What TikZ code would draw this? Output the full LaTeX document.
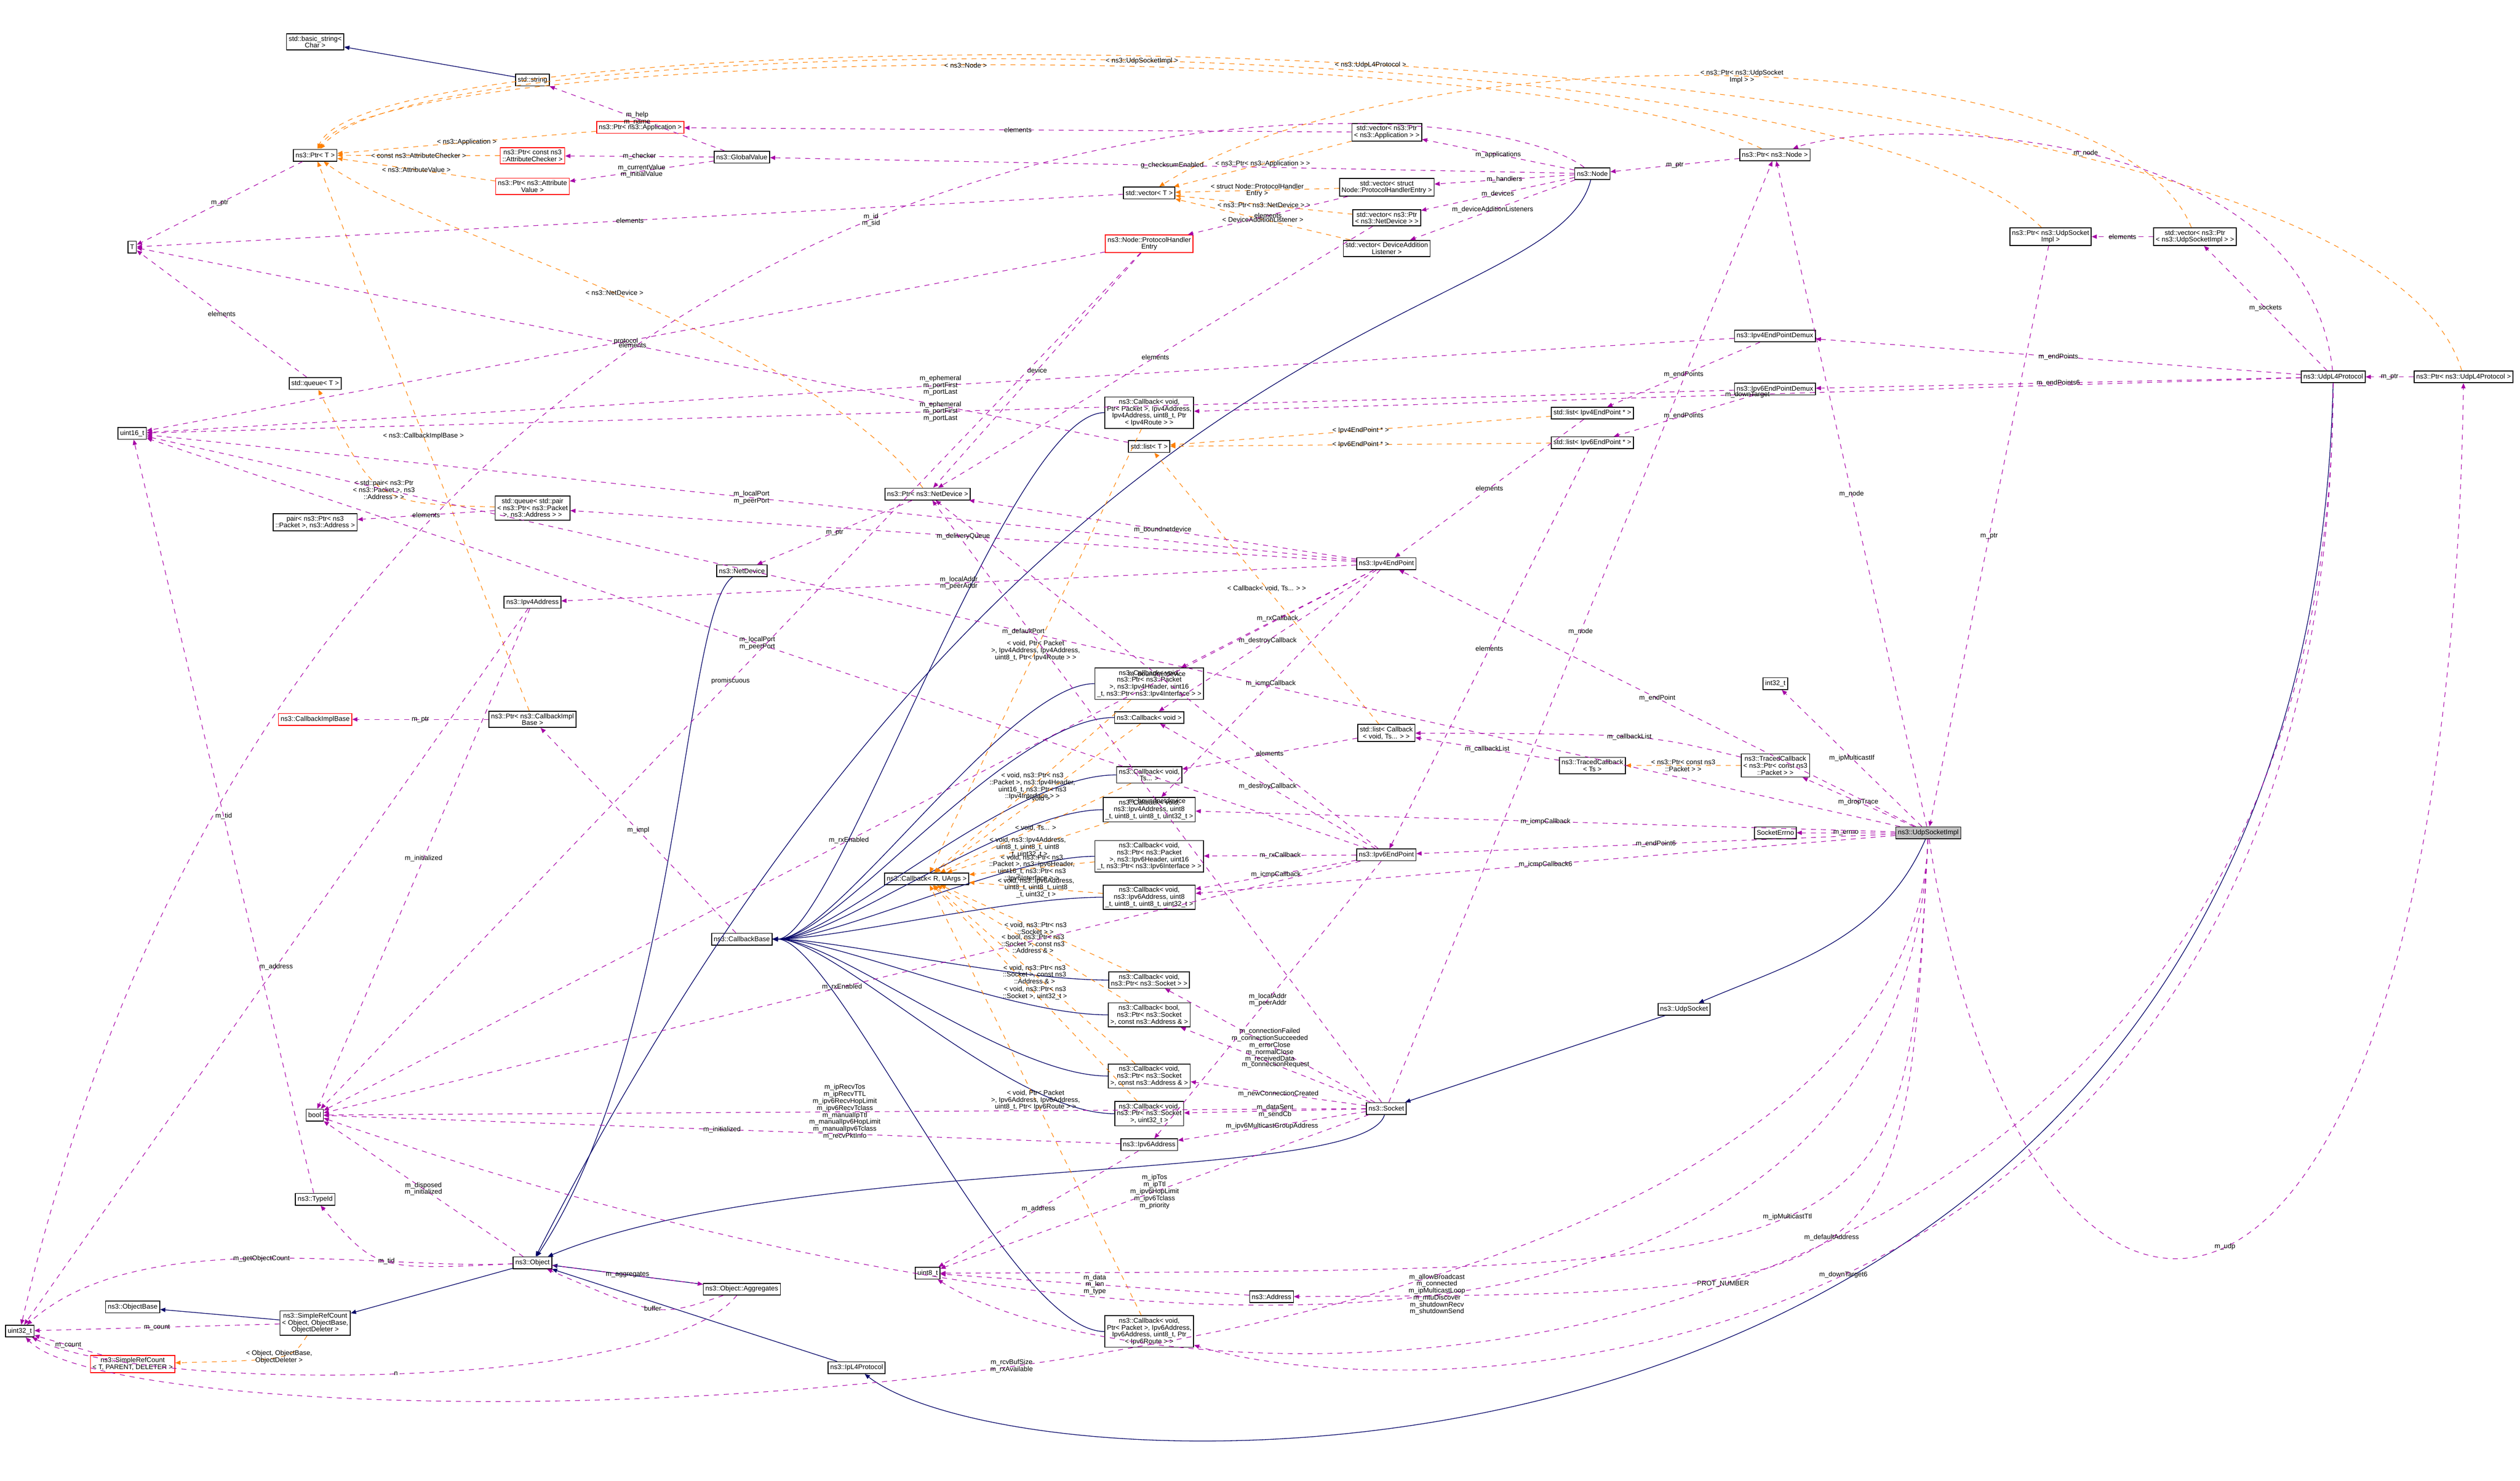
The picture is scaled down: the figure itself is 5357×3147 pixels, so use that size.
\documentclass[tikz,border=0pt]{standalone}
\usepackage{fontspec}
\setmainfont{Liberation Sans}
\usetikzlibrary{arrows.meta}
\begin{document}
\begin{tikzpicture}[x=0.01cm,y=-0.01cm,font=\fontsize{4.1}{4.2}\selectfont]
    \tikzstyle{cls}=[draw=black,rectangle,inner sep=1.3pt,align=center,minimum height=0.25cm,line width=0.5pt]
    \tikzstyle{undoc}=[cls,draw=red]
    \tikzstyle{focus}=[cls,fill=black!25]
    \tikzstyle{use}=[draw=violet!70!magenta,dashed,line width=0.35pt,-{Triangle[length=1.1mm,width=0.9mm]}]
    \tikzstyle{tmpl}=[draw=orange,dashed,line width=0.35pt,-{Triangle[length=1.1mm,width=0.9mm]}]
    \tikzstyle{inh}=[draw=blue!40!black,line width=0.4pt,-{Triangle[length=1.1mm,width=0.9mm]}]
    \tikzstyle{lbl}=[align=center,inner sep=0.5pt]
    \useasboundingbox (0,0) rectangle (5357,3147);

    % Classes
    \node[cls] (bstr) at (670,89) {std::basic\_string\textless\\Char \textgreater};
    \node[cls] (str) at (1132,170) {std::string};
    \node[cls] (ptrT) at (670,330) {ns3::Ptr\textless{} T \textgreater};
    \node[undoc] (ptrApp) at (1361,271) {ns3::Ptr\textless{} ns3::Application \textgreater};
    \node[undoc] (ptrChk) at (1132,331) {ns3::Ptr\textless{} const ns3\\::AttributeChecker \textgreater};
    \node[undoc] (ptrVal) at (1132,396) {ns3::Ptr\textless{} ns3::Attribute\\Value \textgreater};
    \node[cls] (gval) at (1577,334) {ns3::GlobalValue};
    \node[cls] (T) at (281,525) {T};
    \node[cls] (queueT) at (670,815) {std::queue\textless{} T \textgreater};
    \node[cls] (u16) at (281,921) {uint16\_t};
    \node[cls] (queuePair) at (1132,1080) {std::queue\textless{} std::pair\\\textless{} ns3::Ptr\textless{} ns3::Packet\\\textgreater, ns3::Address \textgreater{} \textgreater};
    \node[cls] (pair) at (670,1110) {pair\textless{} ns3::Ptr\textless{} ns3\\::Packet \textgreater, ns3::Address \textgreater};
    \node[cls] (netdev) at (1577,1213) {ns3::NetDevice};
    \node[cls] (ip4addr) at (1132,1280) {ns3::Ipv4Address};
    \node[undoc] (cbImpl) at (670,1529) {ns3::CallbackImplBase};
    \node[cls] (ptrCbImpl) at (1132,1529) {ns3::Ptr\textless{} ns3::CallbackImpl\\Base \textgreater};
    \node[cls] (cbBase) at (1577,1996) {ns3::CallbackBase};
    \node[cls] (bool) at (669,2370) {bool};
    \node[cls] (tid) at (670,2549) {ns3::TypeId};
    \node[cls] (obj) at (1132,2684) {ns3::Object};
    \node[cls] (aggr) at (1577,2740) {ns3::Object::Aggregates};
    \node[cls] (objBase) at (282,2778) {ns3::ObjectBase};
    \node[cls] (srcObj) at (670,2812) {ns3::SimpleRefCount\\\textless{} Object, ObjectBase,\\ObjectDeleter \textgreater};
    \node[cls] (u32) at (42,2829) {uint32\_t};
    \node[undoc] (srcT) at (282,2899) {ns3::SimpleRefCount\\\textless{} T, PARENT, DELETER \textgreater};
    \node[cls] (l4) at (1821,2907) {ns3::IpL4Protocol};

    \node[cls] (vecApp) at (2948,281) {std::vector\textless{} ns3::Ptr\\\textless{} ns3::Application \textgreater{} \textgreater};
    \node[cls] (node) at (3385,369) {ns3::Node};
    \node[cls] (vecT) at (2443,410) {std::vector\textless{} T \textgreater};
    \node[cls] (vecPhe) at (2948,398) {std::vector\textless{} struct\\Node::ProtocolHandlerEntry \textgreater};
    \node[cls] (vecDev) at (2948,463) {std::vector\textless{} ns3::Ptr\\\textless{} ns3::NetDevice \textgreater{} \textgreater};
    \node[cls] (vecDal) at (2948,528) {std::vector\textless{} DeviceAddition\\Listener \textgreater};
    \node[undoc] (phe) at (2443,518) {ns3::Node::ProtocolHandler\\Entry};
    \node[cls] (cbRt4) at (2443,877) {ns3::Callback\textless{} void,\\Ptr\textless{} Packet \textgreater, Ipv4Address,\\Ipv4Address, uint8\_t, Ptr\\\textless{} Ipv4Route \textgreater{} \textgreater};
    \node[cls] (listT) at (2443,949) {std::list\textless{} T \textgreater};
    \node[cls] (list4) at (3385,878) {std::list\textless{} Ipv4EndPoint * \textgreater};
    \node[cls] (list6) at (3385,941) {std::list\textless{} Ipv6EndPoint * \textgreater};
    \node[cls] (ptrDev) at (1972,1050) {ns3::Ptr\textless{} ns3::NetDevice \textgreater};

    \node[cls] (ptrNode) at (3773,329) {ns3::Ptr\textless{} ns3::Node \textgreater};
    \node[cls] (ptrUsi) at (4359,503) {ns3::Ptr\textless{} ns3::UdpSocket\\Impl \textgreater};
    \node[cls] (vecUsi) at (4666,503) {std::vector\textless{} ns3::Ptr\\\textless{} ns3::UdpSocketImpl \textgreater{} \textgreater};
    \node[cls] (demux4) at (3773,714) {ns3::Ipv4EndPointDemux};
    \node[cls] (demux6) at (3773,827) {ns3::Ipv6EndPointDemux};
    \node[cls] (udpl4) at (4960,801) {ns3::UdpL4Protocol};
    \node[cls] (ptrUdpl4) at (5237,801) {ns3::Ptr\textless{} ns3::UdpL4Protocol \textgreater};

    \node[cls] (ep4) at (2947,1198) {ns3::Ipv4EndPoint};
    \node[cls] (cbH4) at (2443,1453) {ns3::Callback\textless{} void,\\ns3::Ptr\textless{} ns3::Packet\\\textgreater, ns3::Ipv4Header, uint16\\\_t, ns3::Ptr\textless{} ns3::Ipv4Interface \textgreater{} \textgreater};
    \node[cls] (cbVoid) at (2443,1525) {ns3::Callback\textless{} void \textgreater};
    \node[cls] (listCb) at (2947,1558) {std::list\textless{} Callback\\\textless{} void, Ts... \textgreater{} \textgreater};
    \node[cls] (tcTs) at (3385,1627) {ns3::TracedCallback\\\textless{} Ts \textgreater};
    \node[cls] (cbTs) at (2443,1647) {ns3::Callback\textless{} void,\\Ts... \textgreater};
    \node[cls] (cbA4) at (2443,1721) {ns3::Callback\textless{} void,\\ns3::Ipv4Address, uint8\\\_t, uint8\_t, uint8\_t, uint32\_t \textgreater};
    \node[cls] (cbH6) at (2443,1820) {ns3::Callback\textless{} void,\\ns3::Ptr\textless{} ns3::Packet\\\textgreater, ns3::Ipv6Header, uint16\\\_t, ns3::Ptr\textless{} ns3::Ipv6Interface \textgreater{} \textgreater};
    \node[cls] (ep6) at (2947,1817) {ns3::Ipv6EndPoint};
    \node[cls] (cbRU) at (1970,1868) {ns3::Callback\textless{} R, UArgs \textgreater};
    \node[cls] (cbA6) at (2443,1907) {ns3::Callback\textless{} void,\\ns3::Ipv6Address, uint8\\\_t, uint8\_t, uint8\_t, uint32\_t \textgreater};
    \node[cls] (cbSock) at (2443,2083) {ns3::Callback\textless{} void,\\ns3::Ptr\textless{} ns3::Socket \textgreater{} \textgreater};
    \node[cls] (cbBool) at (2443,2157) {ns3::Callback\textless{} bool,\\ns3::Ptr\textless{} ns3::Socket\\\textgreater, const ns3::Address \& \textgreater};
    \node[cls] (cbSAddr) at (2443,2287) {ns3::Callback\textless{} void,\\ns3::Ptr\textless{} ns3::Socket\\\textgreater, const ns3::Address \& \textgreater};
    \node[cls] (cbSU32) at (2443,2367) {ns3::Callback\textless{} void,\\ns3::Ptr\textless{} ns3::Socket\\\textgreater, uint32\_t \textgreater};
    \node[cls] (ip6addr) at (2443,2433) {ns3::Ipv6Address};
    \node[cls] (sock) at (2947,2356) {ns3::Socket};
    \node[cls] (u8) at (1972,2706) {uint8\_t};
    \node[cls] (addr) at (2703,2756) {ns3::Address};
    \node[cls] (cbRt6) at (2443,2830) {ns3::Callback\textless{} void,\\Ptr\textless{} Packet \textgreater, Ipv6Address,\\Ipv6Address, uint8\_t, Ptr\\\textless{} Ipv6Route \textgreater{} \textgreater};

    \node[cls] (i32) at (3774,1453) {int32\_t};
    \node[cls] (tcPkt) at (3774,1627) {ns3::TracedCallback\\\textless{} ns3::Ptr\textless{} const ns3\\::Packet \textgreater{} \textgreater};
    \node[cls] (errno) at (3774,1770) {SocketErrno};
    \node[focus] (usi) at (4099,1770) {ns3::UdpSocketImpl};
    \node[cls] (udpSock) at (3580,2145) {ns3::UdpSocket};

    % Inheritance
    \draw[inh] (str) -- (bstr);
    \draw[inh] (node) .. controls (3300,700) and (2200,600) .. (obj);
    \draw[inh] (netdev) .. controls (1450,1300) and (1450,2200) .. (obj);
    \draw[inh] (usi) .. controls (4000,2000) and (3800,2050) .. (udpSock);
    \draw[inh] (udpSock) -- (sock);
    \draw[inh] (sock) .. controls (2900,2520) and (1700,2450) .. (obj);
    \draw[inh] (udpl4) .. controls (4900,3300) and (2200,3200) .. (l4);
    \draw[inh] (l4) -- (obj);
    \draw[inh] (aggr) -- (obj);
    \draw[inh] (obj) -- (srcObj);
    \draw[inh] (srcObj) -- (objBase);
    \foreach \cb in {cbRt4,cbH4,cbVoid,cbTs,cbA4,cbH6,cbA6,cbSock,cbBool,cbSAddr,cbSU32,cbRt6}
        \draw[inh] (\cb) .. controls +(-300,0) and +(200,0) .. (cbBase);

    % Template instances
    \draw[tmpl] (ptrApp) -- node[lbl,at={(901,282)}]{\textless{} ns3::Application \textgreater} (ptrT);
    \draw[tmpl] (ptrChk) -- node[lbl,at={(901,320)}]{\textless{} const ns3::AttributeChecker \textgreater} (ptrT);
    \draw[tmpl] (ptrVal) -- node[lbl,at={(901,345)}]{\textless{} ns3::AttributeValue \textgreater} (ptrT);
    \draw[tmpl] (ptrDev) .. controls (1700,700) and (900,500) .. node[lbl,at={(1363,428)}]{\textless{} ns3::NetDevice \textgreater} (ptrT);
    \draw[tmpl] (ptrCbImpl) -- node[lbl,at={(901,516)}]{\textless{} ns3::CallbackImplBase \textgreater} (ptrT);
    \draw[tmpl] (ptrNode) .. controls (3200,60) and (800,100) .. node[lbl,at={(2196,112)}]{\textless{} ns3::Node \textgreater} (ptrT);
    \draw[tmpl] (ptrUsi) .. controls (3900,40) and (900,40) .. node[lbl,at={(2703,62)}]{\textless{} ns3::UdpSocketImpl \textgreater} (ptrT);
    \draw[tmpl] (ptrUdpl4) .. controls (5000,0) and (800,0) .. node[lbl,at={(3388,11)}]{\textless{} ns3::UdpL4Protocol \textgreater} (ptrT);
    \draw[tmpl] (vecApp) -- node[lbl,at={(2706,303)}]{\textless{} ns3::Ptr\textless{} ns3::Application \textgreater{} \textgreater} (vecT);
    \draw[tmpl] (vecPhe) -- node[lbl,at={(2706,383)}]{\textless{} struct Node::ProtocolHandler\\Entry \textgreater} (vecT);
    \draw[tmpl] (vecDev) -- node[lbl,at={(2706,421)}]{\textless{} ns3::Ptr\textless{} ns3::NetDevice \textgreater{} \textgreater} (vecT);
    \draw[tmpl] (vecDal) -- node[lbl,at={(2706,460)}]{\textless{} DeviceAdditionListener \textgreater} (vecT);
    \draw[tmpl] (vecUsi) .. controls (4500,80) and (3000,60) .. node[lbl,at={(3775,156)}]{\textless{} ns3::Ptr\textless{} ns3::UdpSocket\\Impl \textgreater{} \textgreater} (vecT);
    \draw[tmpl] (list4) -- node[lbl,at={(2949,885)}]{\textless{} Ipv4EndPoint * \textgreater} (listT);
    \draw[tmpl] (list6) -- node[lbl,at={(2949,935)}]{\textless{} Ipv6EndPoint * \textgreater} (listT);
    \draw[tmpl] (listCb) -- node[lbl,at={(2706,1024)}]{\textless{} Callback\textless{} void, Ts... \textgreater{} \textgreater} (listT);
    \draw[tmpl] (queuePair) .. controls (800,1070) .. node[lbl,at={(901,1007)}]{\textless{} std::pair\textless{} ns3::Ptr\\\textless{} ns3::Packet \textgreater, ns3\\::Address \textgreater{} \textgreater} (queueT);
    \draw[tmpl] (tcPkt) -- node[lbl,at={(3568,1611)}]{\textless{} ns3::Ptr\textless{} const ns3\\::Packet \textgreater{} \textgreater} (tcTs);
    \draw[tmpl] (srcObj) .. controls (620,2890) .. node[lbl,at={(476,2863)}]{\textless{} Object, ObjectBase,\\ObjectDeleter \textgreater} (srcT);
    \draw[tmpl] (cbRt4) -- node[lbl,at={(2196,1096)}]{\textless{} void, Ptr\textless{} Packet\\\textgreater, Ipv4Address, Ipv4Address,\\uint8\_t, Ptr\textless{} Ipv4Route \textgreater{} \textgreater} (cbRU);
    \draw[tmpl] (cbH4) -- node[lbl,at={(2196,1418)}]{\textless{} void, ns3::Ptr\textless{} ns3\\::Packet \textgreater, ns3::Ipv4Header,\\uint16\_t, ns3::Ptr\textless{} ns3\\::Ipv4Interface \textgreater{} \textgreater} (cbRU);
    \draw[tmpl] (cbVoid) -- node[lbl,at={(2196,1531)}]{\textless{} void \textgreater} (cbRU);
    \draw[tmpl] (cbTs) -- node[lbl,at={(2196,1634)}]{\textless{} void, Ts... \textgreater} (cbRU);
    \draw[tmpl] (cbA4) -- node[lbl,at={(2180,1718)}]{\textless{} void, ns3::Ipv4Address,\\uint8\_t, uint8\_t, uint8\\\_t, uint32\_t \textgreater} (cbRU);
    \draw[tmpl] (cbH6) -- node[lbl,at={(2180,1804)}]{\textless{} void, ns3::Ptr\textless{} ns3\\::Packet \textgreater, ns3::Ipv6Header,\\uint16\_t, ns3::Ptr\textless{} ns3\\::Ipv6Interface \textgreater{} \textgreater} (cbRU);
    \draw[tmpl] (cbA6) -- node[lbl,at={(2180,1884)}]{\textless{} void, ns3::Ipv6Address,\\uint8\_t, uint8\_t, uint8\\\_t, uint32\_t \textgreater} (cbRU);
    \draw[tmpl] (cbSock) -- node[lbl,at={(2196,1940)}]{\textless{} void, ns3::Ptr\textless{} ns3\\::Socket \textgreater{} \textgreater} (cbRU);
    \draw[tmpl] (cbBool) -- node[lbl,at={(2196,2022)}]{\textless{} bool, ns3::Ptr\textless{} ns3\\::Socket \textgreater, const ns3\\::Address \& \textgreater} (cbRU);
    \draw[tmpl] (cbSAddr) -- node[lbl,at={(2196,2157)}]{\textless{} void, ns3::Ptr\textless{} ns3\\::Socket \textgreater, const ns3\\::Address \& \textgreater} (cbRU);
    \draw[tmpl] (cbSU32) -- node[lbl,at={(2196,2288)}]{\textless{} void, ns3::Ptr\textless{} ns3\\::Socket \textgreater, uint32\_t \textgreater} (cbRU);
    \draw[tmpl] (cbRt6) -- node[lbl,at={(2196,2399)}]{\textless{} void, Ptr\textless{} Packet\\\textgreater, Ipv6Address, Ipv6Address,\\uint8\_t, Ptr\textless{} Ipv6Route \textgreater{} \textgreater} (cbRU);

    % Members
    \draw[use] (gval) -- node[lbl,at={(1363,192)}]{m\_help\\m\_name} (str);
    \draw[use] (gval) -- node[lbl,at={(1363,323)}]{m\_checker} (ptrChk);
    \draw[use] (gval) -- node[lbl,at={(1363,352)}]{m\_currentValue\\m\_initialValue} (ptrVal);
    \draw[use] (ptrT) -- node[lbl,at={(475,385)}]{m\_ptr} (T);
    \draw[use] (queueT) -- node[lbl,at={(475,610)}]{elements} (T);
    \draw[use] (vecT) -- node[lbl,at={(1363,498)}]{elements} (T);
    \draw[use] (listT) -- node[lbl,at={(1363,632)}]{elements} (T);
    \draw[use] (node) -- node[lbl,at={(2445,324)}]{g\_checksumEnabled} (gval);
    \draw[use] (node) -- node[lbl,at={(3174,283)}]{m\_applications} (vecApp);
    \draw[use] (node) -- node[lbl,at={(3174,368)}]{m\_handlers} (vecPhe);
    \draw[use] (node) -- node[lbl,at={(3174,399)}]{m\_devices} (vecDev);
    \draw[use] (node) -- node[lbl,at={(3174,455)}]{m\_deviceAdditionListeners} (vecDal);
    \draw[use] (node) .. controls (3100,150) and (700,40) .. node[lbl,at={(1576,154)}]{m\_id\\m\_sid} (u32);
    \draw[use] (vecApp) -- node[lbl,at={(1972,248)}]{elements} (ptrApp);
    \draw[use] (vecPhe) -- node[lbl,at={(2706,513)}]{elements} (phe);
    \draw[use] (vecDev) -- node[lbl,at={(2445,734)}]{elements} (ptrDev);
    \draw[use] (phe) -- node[lbl,at={(1363,537)}]{protocol} (u16);
    \draw[use] (phe) -- node[lbl,at={(2196,644)}]{device} (ptrDev);
    \draw[use] (phe) -- node[lbl,at={(1577,739)}]{promiscuous} (bool);
    \draw[use] (ptrNode) -- node[lbl,at={(3579,333)}]{m\_ptr} (node);
    \draw[use] (ptrDev) -- node[lbl,at={(1768,1078)}]{m\_ptr} (netdev);
    \draw[use] (ptrCbImpl) -- node[lbl,at={(901,1521)}]{m\_ptr} (cbImpl);
    \draw[use] (cbBase) -- node[lbl,at={(1363,1659)}]{m\_impl} (ptrCbImpl);
    \draw[use] (queuePair) -- node[lbl,at={(901,1100)}]{elements} (pair);
    \draw[use] (ep4) -- node[lbl,at={(2706,1396)}]{m\_deliveryQueue} (queuePair);
    \draw[use] (ep4) -- node[lbl,at={(1972,1273)}]{m\_localAddr\\m\_peerAddr} (ip4addr);
    \draw[use] (ep4) -- node[lbl,at={(1577,913)}]{m\_localPort\\m\_peerPort} (u16);
    \draw[use] (ep4) -- node[lbl,at={(2445,1079)}]{m\_boundnetdevice} (ptrDev);
    \draw[use] (ep4) -- node[lbl,at={(2706,1224)}]{m\_rxCallback} (cbH4);
    \draw[use] (ep4) -- node[lbl,at={(2706,1304)}]{m\_destroyCallback} (cbVoid);
    \draw[use] (ep4) -- node[lbl,at={(2706,1350)}]{m\_icmpCallback} (cbA4);
    \draw[use] (ep4) -- node[lbl,at={(1768,1157)}]{m\_rxEnabled} (bool);
    \draw[use] (ep6) -- node[lbl,at={(2706,2271)}]{m\_localAddr\\m\_peerAddr} (ip6addr);
    \draw[use] (ep6) -- node[lbl,at={(1579,1315)}]{m\_localPort\\m\_peerPort} (u16);
    \draw[use] (ep6) -- node[lbl,at={(2445,1127)}]{m\_boundnetdevice} (ptrDev);
    \draw[use] (ep6) -- node[lbl,at={(2706,1810)}]{m\_rxCallback} (cbH6);
    \draw[use] (ep6) -- node[lbl,at={(2706,1834)}]{m\_icmpCallback} (cbA6);
    \draw[use] (ep6) -- node[lbl,at={(2706,1499)}]{m\_destroyCallback} (cbVoid);
    \draw[use] (ep6) -- node[lbl,at={(1768,2276)}]{m\_rxEnabled} (bool);
    \draw[use] (list4) -- node[lbl,at={(3174,927)}]{elements} (ep4);
    \draw[use] (list6) -- node[lbl,at={(3174,1627)}]{elements} (ep6);
    \draw[use] (demux4) -- node[lbl,at={(3556,758)}]{m\_endPoints} (list4);
    \draw[use] (demux4) -- node[lbl,at={(1972,585)}]{m\_ephemeral\\m\_portFirst\\m\_portLast} (u16);
    \draw[use] (demux6) -- node[lbl,at={(3568,905)}]{m\_endPoints} (list6);
    \draw[use] (demux6) -- node[lbl,at={(1972,729)}]{m\_ephemeral\\m\_portFirst\\m\_portLast} (u16);
    \draw[use] (udpl4) -- node[lbl,at={(4361,706)}]{m\_endPoints} (demux4);
    \draw[use] (udpl4) -- node[lbl,at={(4361,819)}]{m\_endPoints6} (demux6);
    \draw[use] (udpl4) -- node[lbl,at={(4827,612)}]{m\_sockets} (vecUsi);
    \draw[use] (udpl4) .. controls (4900,250) and (4000,250) .. node[lbl,at={(4361,275)}]{m\_node} (ptrNode);
    \draw[use] (udpl4) -- node[lbl,at={(3946,767)}]{m\_downTarget} (cbRt4);
    \draw[use] (udpl4) .. controls (4950,3000) and (3000,3000) .. node[lbl,at={(3946,2979)}]{m\_downTarget6} (cbRt6);
    \draw[use] (udpl4) .. controls (4950,3060) and (2500,3040) .. node[lbl,at={(3774,3031)}]{PROT\_NUMBER} (u8);
    \draw[use] (ptrUdpl4) -- node[lbl,at={(5082,792)}]{m\_ptr} (udpl4);
    \draw[use] (ptrUsi) -- node[lbl,at={(4223,771)}]{m\_ptr} (usi);
    \draw[use] (vecUsi) -- node[lbl,at={(4513,495)}]{elements} (ptrUsi);
    \draw[use] (listCb) -- node[lbl,at={(2706,1573)}]{elements} (cbTs);
    \draw[use] (tcTs) -- node[lbl,at={(3174,1583)}]{m\_callbackList} (listCb);
    \draw[use] (tcPkt) .. controls (3500,1560) .. node[lbl,at={(3388,1550)}]{m\_callbackList} (listCb);
    \draw[use] (usi) -- node[lbl,at={(3946,1650)}]{m\_dropTrace} (tcPkt);
    \draw[use] (usi) -- node[lbl,at={(3946,1763)}]{m\_errno} (errno);
    \draw[use] (usi) -- node[lbl,at={(3946,1438)}]{m\_ipMulticastIf} (i32);
    \draw[use] (usi) -- node[lbl,at={(3568,1412)}]{m\_endPoint} (ep4);
    \draw[use] (usi) -- node[lbl,at={(3568,1798)}]{m\_endPoint6} (ep6);
    \draw[use] (usi) -- node[lbl,at={(3388,1711)}]{m\_icmpCallback} (cbA4);
    \draw[use] (usi) -- node[lbl,at={(3388,1900)}]{m\_icmpCallback6} (cbA6);
    \draw[use] (usi) -- node[lbl,at={(3946,812)}]{m\_node} (ptrNode);
    \draw[use] (usi) .. controls (4300,3100) and (5200,3100) .. node[lbl,at={(4667,2995)}]{m\_udp} (ptrUdpl4);
    \draw[use] (usi) .. controls (4050,2700) .. node[lbl,at={(3174,2699)}]{m\_ipMulticastTtl} (u8);
    \draw[use] (usi) .. controls (4050,2750) .. node[lbl,at={(3388,2750)}]{m\_defaultAddress} (addr);
    \draw[use] (usi) -- node[lbl,at={(2196,992)}]{m\_defaultPort} (u16);
    \draw[use] (usi) .. controls (4050,2950) and (2500,3000) .. node[lbl,at={(2445,2921)}]{m\_allowBroadcast\\m\_connected\\m\_ipMulticastLoop\\m\_mtuDiscover\\m\_shutdownRecv\\m\_shutdownSend} (bool);
    \draw[use] (usi) .. controls (4050,3100) and (300,3100) .. node[lbl,at={(1972,3075)}]{m\_rcvBufSize\\m\_rxAvailable} (u32);
    \draw[use] (sock) -- node[lbl,at={(2706,2051)}]{m\_connectionFailed\\m\_connectionSucceeded\\m\_errorClose\\m\_normalClose\\m\_receivedData} (cbSock);
    \draw[use] (sock) -- node[lbl,at={(2706,2172)}]{m\_connectionRequest} (cbBool);
    \draw[use] (sock) -- node[lbl,at={(2706,2318)}]{m\_newConnectionCreated} (cbSAddr);
    \draw[use] (sock) -- node[lbl,at={(2706,2370)}]{m\_dataSent\\m\_sendCb} (cbSU32);
    \draw[use] (sock) -- node[lbl,at={(2706,2406)}]{m\_ipv6MulticastGroupAddress} (ip6addr);
    \draw[use] (sock) -- node[lbl,at={(2445,2589)}]{m\_ipTos\\m\_ipTtl\\m\_ipv6HopLimit\\m\_ipv6Tclass\\m\_priority} (u8);
    \draw[use] (sock) -- node[lbl,at={(3970,1189)}]{m\_node} (ptrNode);
    \draw[use] (sock) -- node[lbl,at={(2445,1584)}]{m\_boundnetdevice} (ptrDev);
    \draw[use] (sock) -- node[lbl,at={(1768,2541)}]{m\_ipRecvTos\\m\_ipRecvTTL\\m\_ipv6RecvHopLimit\\m\_ipv6RecvTclass\\m\_manualIpTtl\\m\_manualIpv6HopLimit\\m\_manualIpv6Tclass\\m\_recvPktInfo} (bool);
    \draw[use] (ip4addr) -- node[lbl,at={(475,1523)}]{m\_address} (u32);
    \draw[use] (ip6addr) -- node[lbl,at={(2196,2553)}]{m\_address} (u8);
    \draw[use] (ip4addr) -- node[lbl,at={(901,1559)}]{m\_initialized} (bool);
    \draw[use] (ip6addr) -- node[lbl,at={(1579,2433)}]{m\_initialized} (bool);
    \draw[use] (addr) -- node[lbl,at={(2196,2746)}]{m\_data\\m\_len\\m\_type} (u8);
    \draw[use] (obj) -- node[lbl,at={(902,2621)}]{m\_disposed\\m\_initialized} (bool);
    \draw[use] (obj) .. controls (800,2700) .. node[lbl,at={(902,2674)}]{m\_tid} (tid);
    \draw[use] (tid) -- node[lbl,at={(475,1795)}]{m\_tid} (u16);
    \draw[use] (obj) .. controls (800,2700) and (300,2600) .. node[lbl,at={(475,2700)}]{m\_getObjectCount} (u32);
    \draw[use] (obj) -- node[lbl,at={(1363,2688)}]{m\_aggregates} (aggr);
    \draw[use] (aggr) .. controls (1400,2800) .. node[lbl,at={(1363,2731)}]{buffer} (obj);
    \draw[use] (aggr) .. controls (1400,2960) and (300,2960) .. node[lbl,at={(672,2951)}]{n} (u32);
    \draw[use] (srcObj) -- node[lbl,at={(284,2810)}]{m\_count} (u32);
    \draw[use] (srcT) -- node[lbl,at={(135,2856)}]{m\_count} (u32);
\end{tikzpicture}
\end{document}
